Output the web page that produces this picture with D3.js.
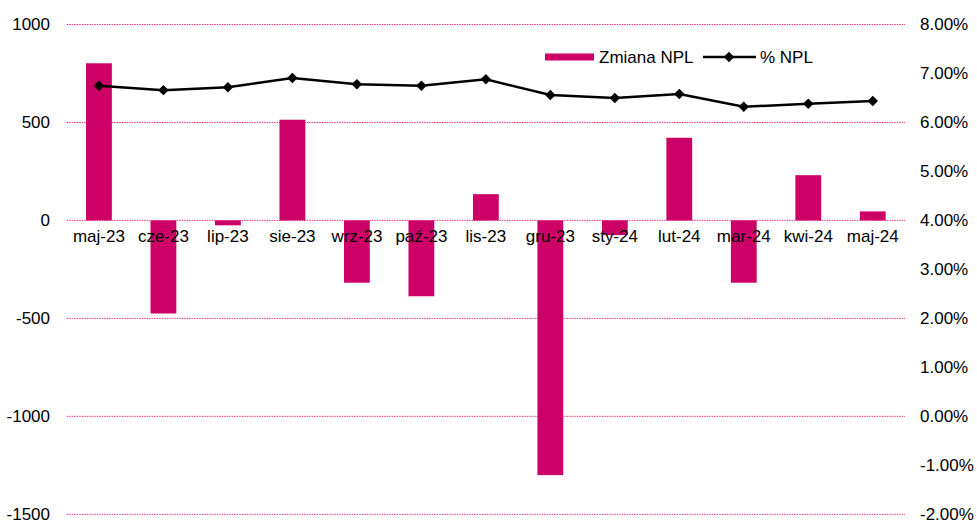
<!DOCTYPE html>
<html><head><meta charset="utf-8">
<script src="https://cdn.jsdelivr.net/npm/d3@7"></script>
<style>body{margin:0;background:#fff}text{font-family:"Liberation Sans",Arial,sans-serif}</style>
</head><body><svg id="c" width="977" height="526"></svg>
<script>
const categories = ["maj-23","cze-23","lip-23","sie-23","wrz-23","paź-23","lis-23","gru-23","sty-24","lut-24","mar-24","kwi-24","maj-24"];
const zmianaNPL = [802,-475,-25,514,-318,-387,134,-1300,-75,422,-318,231,46];
const pctNPL = [6.75,6.66,6.72,6.91,6.78,6.75,6.88,6.56,6.50,6.58,6.32,6.38,6.44];
const leftTicks = [-1500,-1000,-500,0,500,1000];
const rightTicks = [-2,-1,0,1,2,3,4,5,6,7,8];
const seriesNames = ["Zmiana NPL","% NPL"];

const svg = d3.select("#c");
const x0 = 66.7, x1 = 905, yTop = 24.5, yBot = 514.3;
const x = d3.scaleBand().domain(categories).range([x0,x1]).paddingInner(0.6).paddingOuter(0.3);
const yL = d3.scaleLinear().domain([-1500,1000]).range([yBot,yTop]);
const yR = d3.scaleLinear().domain([-2,8]).range([yBot,yTop]);
const pink = "#cc0066";

// gridlines
svg.append("g").selectAll("line").data(leftTicks).join("line")
  .attr("x1",x0).attr("x2",x1).attr("y1",d=>yL(d)).attr("y2",d=>yL(d))
  .attr("stroke","#e8308a").attr("stroke-width",1).attr("stroke-dasharray","1.5,1");

// bars
svg.append("g").selectAll("rect").data(zmianaNPL).join("rect")
  .attr("x",(d,i)=>x(categories[i])).attr("width",x.bandwidth())
  .attr("y",d=>yL(Math.max(0,d))).attr("height",d=>Math.abs(yL(d)-yL(0)))
  .attr("fill",pink);

// left axis
const la = svg.append("g").attr("transform","translate(50,0)")
  .call(d3.axisLeft(yL).tickValues(leftTicks).tickSize(0).tickPadding(0).tickFormat(d=>String(d)));
la.select(".domain").remove();
la.selectAll("text").attr("font-size",17).attr("fill","#000").style("font-family","Liberation Sans, Arial, sans-serif");

// right axis
const ra = svg.append("g").attr("transform","translate(920,0)")
  .call(d3.axisRight(yR).tickValues(rightTicks).tickSize(0).tickPadding(0).tickFormat(d=>d.toFixed(2)+"%"));
ra.select(".domain").remove();
ra.selectAll("text").attr("font-size",17).attr("fill","#000").style("font-family","Liberation Sans, Arial, sans-serif");

// x labels
const xa = svg.append("g").attr("transform","translate(0,"+(yL(0)+5)+")")
  .call(d3.axisBottom(x).tickSize(0).tickPadding(0));
xa.select(".domain").remove();
xa.selectAll("text").attr("font-size",17).attr("fill","#000").attr("dy","0.95em").style("font-family","Liberation Sans, Arial, sans-serif");

// line
const cx = i => x(categories[i]) + x.bandwidth()/2;
const line = d3.line().x((d,i)=>cx(i)).y(d=>yR(d));
svg.append("path").datum(pctNPL).attr("d",line).attr("fill","none").attr("stroke","#000").attr("stroke-width",2.5);
const diamond = d3.symbol().type(d3.symbolDiamond2).size(70);
svg.append("g").selectAll("path").data(pctNPL).join("path")
  .attr("transform",(d,i)=>`translate(${cx(i)},${yR(d)})`).attr("d",diamond()).attr("fill","#000");

// legend
const lg = svg.append("g");
lg.append("rect").attr("x",545).attr("y",53.5).attr("width",49).attr("height",7).attr("fill",pink);
lg.append("text").attr("x",599).attr("y",63).attr("font-size",17).text(seriesNames[0]);
lg.append("line").attr("x1",703).attr("x2",756).attr("y1",57).attr("y2",57).attr("stroke","#000").attr("stroke-width",2.5);
lg.append("path").attr("transform","translate(729,57)").attr("d",diamond()).attr("fill","#000");
lg.append("text").attr("x",760).attr("y",63).attr("font-size",17).text(seriesNames[1]);
</script></body></html>
